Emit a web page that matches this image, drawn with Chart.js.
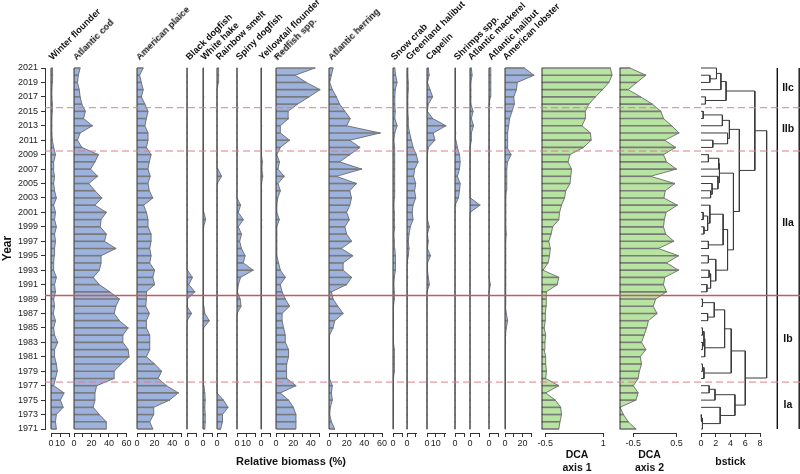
<!DOCTYPE html>
<html lang="en">
<head>
<meta charset="UTF-8" />
<title>Relative biomass stratigraphy</title>
<script src="https://cdn.jsdelivr.net/npm/chart.js"></script>
<style>
  html, body { margin: 0; padding: 0; background: #fff; overflow: hidden; }
  #stage { position: relative; width: 800px; height: 474px; font-family: "Liberation Sans", Arial, Helvetica, sans-serif; }
  #stage canvas { position: absolute; top: 0; }
  .head {
    position: absolute; white-space: nowrap; font-weight: bold; font-size: 9.3px;
    line-height: 10px; height: 10px; color: #111;
    transform-origin: 0 100%; transform: rotate(-45deg);
  }
  .xtitle { position: absolute; font-weight: bold; font-size: 11px; color: #111; white-space: nowrap; transform: translateX(-50%); }
</style>
</head>
<body>
<div id="stage"></div>
<script>
// years, bottom to top
const years = Array.from({ length: 51 }, (_, i) => 1971 + i);

// relative biomass (%), 1971 -> 2021
const winterFlounder = [6, 5, 6, 13.5, 10.5, 14.5, 3, 5, 7, 6,
  4, 4, 7.5, 4, 3, 5, 2.5, 4, 3, 5,
  4, 6, 3, 3, 3.5, 4, 5, 4, 6, 4,
  5, 3, 6, 4, 3, 4, 2.5, 3, 5, 3,
  1.5, 1, 1, 1, 1.5, 1.5, 1, 1, 1.5, 2,
  1.5];
const atlanticCod = [37, 37, 29, 22, 24, 24, 26, 46, 46, 54,
  63, 62, 56, 56, 62, 52, 46, 48, 52, 41,
  29, 22, 29, 31, 31, 48, 35, 37, 30, 31,
  37, 24, 32, 24, 17, 27, 19, 24, 28, 9,
  4, 7, 21, 11, 13, 9, 7, 6, 4, 5,
  7];
const americanPlaice = [18, 14.5, 19, 19, 37, 47, 33.5, 24, 28, 20,
  10.7, 14.5, 14.5, 14.5, 10.7, 10.7, 14, 10, 10.7, 10.7,
  20, 18, 20, 14.5, 16, 14.5, 16, 16, 12.5, 12.5,
  10.7, 7.6, 18, 14, 12.5, 15, 12.5, 14, 16, 10.7,
  12.5, 12.5, 9, 10.7, 12.5, 9, 5, 7, 5, 3,
  7];
const blackDogfish = [0, 0, 0, 0, 0, 0, 0, 0, 0, 0,
  0, 0, 0, 0, 0, 0.5, 5, 0, 0.5, 8.8,
  2, 6, 0.5, 0, 0, 0, 0, 0, 0.5, 1,
  0.5, 0, 0, 0, 0, 0, 0, 0, 0, 0,
  0, 0, 0, 0, 0, 0, 0, 0, 0, 0,
  0];
const whiteHake = [2, 2.5, 2.5, 2, 2.5, 2, 1, 0.5, 0.5, 0.5,
  0.5, 0.5, 0.5, 0.5, 1, 7, 2, 1, 0.5, 0.5,
  0.5, 0.5, 0.5, 0.5, 0.5, 0.5, 0.5, 0.5, 1, 3,
  1, 0.5, 0.5, 0.5, 0.5, 0.5, 0.5, 0.5, 0.5, 0.5,
  0.5, 0.5, 0.5, 0.5, 0.5, 0.5, 1, 0.5, 0.5, 0.5,
  0.5];
const rainbowSmelt = [4, 6, 6, 12, 7, 0, 0, 0, 0, 0,
  0, 0, 0, 0, 0, 1, 0.5, 0, 0, 0,
  0, 0, 0, 0, 0, 0, 0, 0, 0, 0,
  0, 0, 0, 0, 1, 5, 1, 0, 0, 0,
  0, 0, 0, 0, 0, 0, 0, 0, 1.5, 2,
  1.5];
const spinyDogfish = [0, 0, 0, 0, 0, 0, 0, 0, 0, 0,
  0, 0, 0, 0, 0, 0, 0.5, 4.5, 3.5, 0.5,
  1.5, 4, 18, 7, 9, 5, 3, 5, 1.5, 7,
  1.5, 4, 0, 0, 0, 0, 0, 0, 0, 0,
  0, 0, 0, 0, 0, 0, 0, 0, 0, 0,
  0];
const yellowtailFlounder = [0.5, 0.5, 0.5, 0.5, 0.5, 0.5, 1, 0.5, 0.5, 0.5,
  0.5, 0.5, 0.5, 0.5, 0.5, 0.5, 0.5, 0.5, 0.5, 0.5,
  0.5, 0.5, 0.5, 0.5, 0.5, 0.5, 0.5, 0.5, 1, 1,
  0.5, 0.5, 0.5, 1, 1, 2, 1, 1.5, 0.5, 0.5,
  0.5, 0.5, 1, 0.5, 0.5, 0.5, 0.5, 0.5, 0.5, 0.5,
  0.5];
const redfish = [22, 23, 23, 20, 14.5, 5, 23, 12.6, 11.8, 12.6,
  14.5, 14.5, 10.7, 10.7, 8.8, 7, 7, 15.6, 10.7, 7,
  5, 10.7, 5, 3, 1, 1, 1, 1, 1, 3.8,
  1, 1, 2, 5, 2.3, 9.5, 2.3, 4, 1, 5,
  15.6, 5, 5, 14.5, 14, 25, 38, 50.7, 35, 22,
  45];
const atlanticHerring = [6.5, 2.7, 0.8, 1.5, 3.8, 2.7, 3.8, 0.5, 0.5, 0.5,
  0.5, 0.5, 0.5, 0.8, 4.6, 6.5, 16, 10, 4.6, 2.7,
  20, 25.5, 16, 16, 27, 14, 25.5, 20, 18, 23,
  20, 23.6, 25.5, 23.6, 31, 8.4, 37, 12, 23.6, 35,
  23.6, 58, 20, 24, 18, 12, 8.4, 3.8, 0.8, 2.7,
  4.6];
const snowCrab = [0.5, 0.5, 0.5, 0.5, 0.5, 0.5, 0.5, 0.5, 1.5, 1.5,
  1.5, 1.5, 0.5, 0.5, 0.5, 0.5, 0.5, 0.5, 1.5, 1.5,
  1, 1.5, 2.7, 2.7, 2.7, 2, 1.5, 1, 2, 1.5,
  1.5, 1, 1.5, 2, 2, 1.5, 2, 2, 2, 1.5,
  1, 2, 4.5, 2, 2.5, 2, 2, 2.5, 4.5, 3,
  2];
const greenlandHalibut = [0, 0, 0, 0, 0, 0, 0, 0, 0, 0,
  0, 0, 0, 0, 0, 0, 0, 0, 0.3, 0.5,
  0.5, 1, 0.5, 1, 1.5, 2.3, 1.5, 2.3, 3.8, 6.9,
  6, 6.9, 10, 8.8, 10, 7.6, 8.8, 12.6, 10.7, 7,
  5, 3, 1.5, 1.5, 1, 1, 1, 1.5, 1.5, 1,
  1];
const capelin = [0, 0, 0, 0, 0, 0, 0, 0, 0, 0,
  0, 0, 0, 0, 0, 0, 0, 0, 0, 0.5,
  2.7, 1.5, 0.5, 0.5, 4, 0.5, 1.5, 0.5, 2.7, 0.5,
  0.5, 0.5, 0.5, 0.5, 0.5, 0.5, 0.5, 0.5, 0.5, 1.5,
  9, 7.2, 21.7, 6.5, 0.5, 1.5, 6.5, 3.5, 0.5, 2.5,
  1.5];
const shrimps = [0, 0, 0, 0, 0, 0, 0, 0, 0, 0,
  0, 0, 0, 0, 0, 0, 0, 0, 0, 0,
  0, 0, 0, 0, 0, 0, 0, 0, 0, 0,
  0.5, 1, 3.8, 5, 5.7, 2.7, 5, 5.7, 5, 2.7,
  1, 1, 0.5, 0.5, 0.5, 0.5, 0.5, 0.5, 0.5, 0.5,
  0.5];
const atlanticMackerel = [0, 0, 0, 0, 0, 0, 0, 0, 0, 0,
  0, 0, 0, 0, 0, 0, 0, 0, 0, 0,
  0, 0, 0, 0, 0, 0, 0, 0, 0, 0,
  0.5, 11, 0.5, 0, 0, 0, 0, 0, 0, 0.5,
  1.5, 1.5, 4, 1.5, 3.4, 1, 1, 1, 1, 2.3,
  1.5];
const atlanticHalibut = [0, 0, 0, 0, 0, 0, 0, 0, 0, 0,
  0, 0, 0, 0, 0, 0, 0, 0, 0, 0,
  1.5, 0, 0, 0, 0, 0, 0, 0, 0, 0,
  0, 0, 0, 0, 0, 0, 0, 0, 0, 0,
  0, 0.5, 0.5, 0.5, 0.5, 1, 1.5, 2, 2, 2,
  2];
const americanLobster = [0.5, 0.5, 0.5, 0.5, 0.5, 0.5, 0.5, 0.5, 0.5, 0.5,
  0.5, 0.5, 1, 1, 1.5, 3, 1.5, 0.5, 0.5, 0.5,
  1, 1, 1, 1, 1, 1, 1, 1.5, 1, 1,
  1, 1, 1, 1.5, 2, 2, 2, 3, 6.9, 2.3,
  3, 3, 4.2, 5.3, 8, 10.7, 10, 13, 14, 33,
  22];

// DCA site scores, 1971 -> 2021
const dcaAxis1 = [-0.15, -0.12, -0.08, -0.1, -0.24, -0.49, -0.15, -0.49, -0.47, -0.49,
  -0.49, -0.53, -0.51, -0.49, -0.53, -0.5, -0.5, -0.48, -0.48, -0.47,
  -0.19, -0.15, -0.56, -0.43, -0.39, -0.37, -0.41, -0.35, -0.31, -0.15,
  -0.13, -0.08, 0.0, 0.03, 0.14, 0.16, 0.18, 0.09, 0.14, 0.49,
  0.69, 0.67, 0.45, 0.54, 0.54, 0.63, 0.8, 0.98, 1.15, 1.23,
  1.19];
const dcaAxis2 = [-0.44, -0.62, -0.73, -0.81, -0.44, -0.39, -0.5, -0.39, -0.36, -0.31,
  -0.34, -0.21, -0.31, -0.25, -0.19, -0.15, 0.05, -0.04, 0.02, 0.27,
  0.2, 0.23, 0.55, 0.27, 0.55, 0.08, 0.44, 0.25, 0.2, 0.22,
  0.26, 0.52, 0.21, 0.24, 0.46, -0.1, 0.5, 0.27, 0.2, 0.48,
  0.23, 0.56, 0.39, 0.2, 0.14, -0.06, -0.33, -0.62, -0.42, -0.21,
  -0.58];

// CONISS merges: [left, right, height]; values < 100 point at an earlier merge
const dendroMerges = [
  [2020, 2019, 1.2], [2021, 0, 2.1], [1, 2018, 2.7], [2017, 2016, 0.6], [2, 3, 3.4],
  [2015, 2014, 0.3], [5, 2013, 2.9], [2011, 2010, 1.6], [2012, 7, 3.6], [6, 8, 3.85],
  [2009, 2008, 1.0], [10, 2007, 2.4], [2004, 2003, 1.3], [2005, 12, 1.5], [2006, 13, 2.3],
  [11, 14, 2.5], [2001, 2000, 0.3], [1999, 1998, 0.4], [16, 17, 0.9], [2002, 18, 1.2],
  [1997, 1996, 1.0], [19, 20, 3.0], [1995, 1994, 1.0], [1993, 1992, 1.1], [1991, 1990, 0.8],
  [23, 24, 1.3], [22, 25, 2.0], [21, 26, 3.6], [15, 27, 4.4], [9, 28, 5.2],
  [4, 29, 7.3], [1989, 1988, 0.2], [1987, 1986, 0.9], [31, 32, 1.8], [1985, 1984, 0.2],
  [1983, 1982, 0.2], [34, 35, 0.4], [36, 1981, 0.5], [33, 37, 3.2], [1980, 1979, 0.2],
  [39, 1978, 0.4], [38, 40, 4.1], [1977, 1976, 1.1], [42, 1975, 1.9], [1973, 1972, 0.1],
  [44, 1971, 0.2], [1974, 45, 2.6], [43, 46, 4.6], [41, 47, 6.0], [30, 48, 8.9]
];

// zones
const zoneEdges = [1971, 1977.5, 1989.5, 2009.5, 2015.5, 2021];
const zoneNames = ['Ia', 'Ib', 'IIa', 'IIb', 'IIc'];
const majorBreak = 1989.5;

// ---- layout ----
const FONT = '"Liberation Sans", Arial, Helvetica, sans-serif';
const H = 474, Y_TOP = 68, Y_1971 = 429, AXIS_Y = 433;
const PX_YEAR = (Y_1971 - Y_TOP) / (years[years.length - 1] - years[0]);
const Y_MIN = years[0] - (AXIS_Y - Y_1971) / PX_YEAR;
const PAD = 16;
const PX_PCT = 0.875;
const BLUE = '#9db3de', GREEN = '#b8e4a2';

Chart.defaults.font.family = FONT;
Chart.defaults.color = '#222';
Chart.defaults.animation = false;

const stage = document.getElementById('stage');

function addCanvas(left, width) {
  const c = document.createElement('canvas');
  c.width = Math.round(width);
  c.height = H;
  c.style.left = left + 'px';
  stage.appendChild(c);
  return c;
}

// axis line only between first and last tick, like the original brackets
const bracket = {
  id: 'bracket',
  afterDraw(chart) {
    const sx = chart.scales.x;
    const t = sx.ticks;
    if (!t.length) return;
    const ctx = chart.ctx;
    const y0 = Math.round(chart.chartArea.bottom) + 0.5;
    ctx.save();
    ctx.strokeStyle = '#333';
    ctx.lineWidth = 1;
    ctx.beginPath();
    ctx.moveTo(Math.round(sx.getPixelForValue(t[0].value)), y0);
    ctx.lineTo(Math.round(sx.getPixelForValue(t[t.length - 1].value)) + 1, y0);
    ctx.stroke();
    ctx.restore();
  }
};

function yHidden() {
  return { type: 'linear', min: Y_MIN, max: years[years.length - 1], display: false, offset: false };
}

function xAxis(p, lo, hi) {
  return {
    type: 'linear', position: 'bottom', min: lo, max: hi, offset: false,
    afterBuildTicks: s => { s.ticks = p.ticks.map(v => ({ value: v })); },
    afterFit: s => { s.height = H - AXIS_Y; },
    grid: { drawOnChartArea: false, tickLength: 4, color: '#333', lineWidth: 1 },
    border: { display: false },
    ticks: {
      autoSkip: false, maxRotation: 0, padding: 1, color: '#222', font: { size: 9 },
      callback: v => p.labels.includes(v) ? String(v) : ''
    },
    title: p.title ? {
      display: true, text: p.title, color: '#111',
      font: { size: 10.5, weight: 'bold', lineHeight: 1.2 },
      padding: { top: 0, bottom: p.titlePad || 0 }
    } : { display: false }
  };
}

function baseOptions(p, lo, hi) {
  return {
    responsive: false, devicePixelRatio: 1, events: [],
    layout: { padding: { top: Y_TOP, bottom: 0, left: PAD, right: PAD } },
    plugins: { legend: { display: false }, tooltip: { enabled: false } },
    scales: { x: xAxis(p, lo, hi), y: yHidden() }
  };
}

function makeStrip(p) {
  const lo = Math.min(p.min, p.base, ...p.values);
  const hi = Math.max(p.max, ...p.values);
  const areaLeft = p.left - (p.min - lo) * p.ppu;
  const cv = addCanvas(areaLeft - PAD, (hi - lo) * p.ppu + 2 * PAD);
  const pts = years.map((yr, i) => ({ x: p.values[i], y: yr }));
  const baseLine = [{ x: p.base, y: years[0] }, { x: p.base, y: years[years.length - 1] }];
  const opts = baseOptions(p, lo, hi);
  opts.indexAxis = 'y';
  const chart = new Chart(cv, {
    type: 'line',
    data: {
      datasets: [
        { data: pts, fill: { value: p.base }, backgroundColor: p.color, borderColor: '#5c5c5c',
          borderWidth: 0.8, pointRadius: 0, tension: 0, clip: false, order: 2 },
        { type: 'bar', data: pts, base: p.base, backgroundColor: '#7a7a7a', borderWidth: 0,
          barThickness: 1, clip: false, order: 1 },
        { data: baseLine, borderColor: '#333', borderWidth: 1, pointRadius: 0, fill: false,
          clip: false, order: 0 }
      ]
    },
    options: opts,
    plugins: [bracket]
  });
  return { chart, canvasLeft: areaLeft - PAD };
}

// year axis
new Chart(addCanvas(0, 60), {
  type: 'line',
  data: { datasets: [] },
  options: {
    responsive: false, devicePixelRatio: 1, events: [],
    layout: { padding: { top: Y_TOP, bottom: H - Y_1971, left: 0, right: 10 } },
    plugins: { legend: { display: false }, tooltip: { enabled: false } },
    scales: {
      x: { display: false },
      y: {
        type: 'linear', position: 'left', min: years[0], max: years[years.length - 1],
        afterBuildTicks: s => { s.ticks = years.filter(v => v % 2 === 1).map(v => ({ value: v })); },
        afterFit: s => { s.width = 45; },
        grid: { drawOnChartArea: false, tickLength: 4, color: '#333' },
        border: { color: '#333', width: 1 },
        ticks: { autoSkip: false, padding: 3, font: { size: 9 }, color: '#222', callback: v => String(v) },
        title: { display: true, text: 'Year', color: '#111', font: { size: 12, weight: 'bold' }, padding: 0 }
      }
    }
  }
});

// species panels: left = pixel of the zero line
const speciesPanels = [
  { name: 'Winter flounder', values: winterFlounder, left: 50.7, max: 20, ticks: [0, 10, 20], labels: [0, 10] },
  { name: 'Atlantic cod', values: atlanticCod, left: 74.3, max: 60, ticks: [0, 10, 20, 30, 40, 50, 60], labels: [0, 20, 40, 60] },
  { name: 'American plaice', values: americanPlaice, left: 137.3, max: 50, ticks: [0, 10, 20, 30, 40, 50], labels: [0, 20, 40] },
  { name: 'Black dogfish', values: blackDogfish, left: 187.3, max: 10, ticks: [0, 10], labels: [0] },
  { name: 'White hake', values: whiteHake, left: 202.7, max: 10, ticks: [0, 10], labels: [0] },
  { name: 'Rainbow smelt', values: rainbowSmelt, left: 217.3, max: 10, ticks: [0, 10], labels: [0] },
  { name: 'Spiny dogfish', values: spinyDogfish, left: 237, max: 20, ticks: [0, 10, 20], labels: [0, 10] },
  { name: 'Yellowtail flounder', values: yellowtailFlounder, left: 260.7, max: 10, ticks: [0, 10], labels: [0] },
  { name: 'Redfish spp.', values: redfish, left: 275.7, max: 50, ticks: [0, 10, 20, 30, 40, 50], labels: [0, 20, 40] },
  { name: 'Atlantic herring', values: atlanticHerring, left: 329.3, max: 60, ticks: [0, 10, 20, 30, 40, 50, 60], labels: [0, 20, 40, 60] },
  { name: 'Snow crab', values: snowCrab, left: 392.7, max: 10, ticks: [0, 10], labels: [0] },
  { name: 'Greenland halibut', values: greenlandHalibut, left: 407.3, max: 10, ticks: [0, 10], labels: [0] },
  { name: 'Capelin', values: capelin, left: 427, max: 20, ticks: [0, 10, 20], labels: [0, 10] },
  { name: 'Shrimps spp.', values: shrimps, left: 455, max: 10, ticks: [0, 10], labels: [0] },
  { name: 'Atlantic mackerel', values: atlanticMackerel, left: 469.7, max: 10, ticks: [0, 10], labels: [0] },
  { name: 'Atlantic halibut', values: atlanticHalibut, left: 489.3, max: 10, ticks: [0, 10], labels: [0] },
  { name: 'American lobster', values: americanLobster, left: 504.7, max: 30, ticks: [0, 10, 20, 30], labels: [0, 20] }
];

speciesPanels.forEach(p => {
  const { chart, canvasLeft } = makeStrip(Object.assign({ min: 0, base: 0, ppu: PX_PCT, color: BLUE }, p));
  const zeroX = canvasLeft + chart.scales.x.getPixelForValue(0);
  const head = document.createElement('div');
  head.className = 'head';
  head.textContent = p.name;
  head.style.left = (zeroX + 3.5) + 'px';
  head.style.top = (Y_TOP - 16) + 'px';
  stage.appendChild(head);
});

// DCA panels
makeStrip({ values: dcaAxis1, left: 545, min: -0.5, max: 1, ppu: 38.47, base: -0.586, color: GREEN,
  ticks: [-0.5, 1], labels: [-0.5, 1], title: ['DCA', 'axis 1'] });
makeStrip({ values: dcaAxis2, left: 633.3, min: -0.5, max: 0.5, ppu: 43.4, base: -0.81, color: GREEN,
  ticks: [-0.5, 0.5], labels: [-0.5, 0.5], title: ['DCA', 'axis 2'] });

// dendrogram
(function () {
  const nodes = [];
  const pos = ref => ref < 100 ? nodes[ref] : { h: 0, y: ref };
  const datasets = dendroMerges.map(([a, b, h]) => {
    const A = pos(a), B = pos(b);
    nodes.push({ h, y: (A.y + B.y) / 2 });
    return {
      data: [{ x: A.h, y: A.y }, { x: h, y: A.y }, { x: h, y: B.y }, { x: B.h, y: B.y }],
      showLine: true, borderColor: '#3a3a3a', borderWidth: 1, pointRadius: 0, fill: false, clip: false
    };
  });
  const p = { min: 0, max: 8, ticks: [0, 2, 4, 6, 8], labels: [0, 2, 4, 6, 8], title: 'bstick', titlePad: 6 };
  const ppu = 7.375;
  new Chart(addCanvas(701 - PAD, (p.max - p.min) * ppu + 2 * PAD), {
    type: 'scatter',
    data: { datasets },
    options: baseOptions(p, p.min, p.max),
    plugins: [bracket]
  });
})();

// zone overlay
const zoneLabels = {
  id: 'zoneLabels',
  afterDatasetsDraw(chart) {
    const { ctx, scales: { y } } = chart;
    ctx.save();
    ctx.font = 'bold 10.5px ' + FONT;
    ctx.fillStyle = '#111';
    ctx.textAlign = 'center';
    ctx.textBaseline = 'middle';
    zoneNames.forEach((name, i) => {
      ctx.fillText(name, 788, y.getPixelForValue((zoneEdges[i] + zoneEdges[i + 1]) / 2));
    });
    ctx.restore();
  }
};
const overlaySets = zoneEdges.slice(1, -1).map(b => ({
  data: [{ x: 45, y: b }, { x: 800, y: b }],
  showLine: true, pointRadius: 0, fill: false,
  borderColor: b === majorBreak ? '#c25a62' : '#dc7f8a',
  borderWidth: b === majorBreak ? 1.6 : 1,
  borderDash: b === majorBreak ? [] : [7, 4]
}));
[777.3, 799.2].forEach(x => overlaySets.push({
  data: [{ x, y: years[0] }, { x, y: years[years.length - 1] }],
  showLine: true, pointRadius: 0, fill: false, borderColor: '#111', borderWidth: 1.4
}));
const ov = addCanvas(0, 800);
ov.style.pointerEvents = 'none';
new Chart(ov, {
  type: 'scatter',
  data: { datasets: overlaySets },
  options: {
    responsive: false, devicePixelRatio: 1, events: [],
    layout: { padding: { top: Y_TOP, bottom: H - AXIS_Y, left: 0, right: 0 } },
    plugins: { legend: { display: false }, tooltip: { enabled: false } },
    scales: {
      x: { type: 'linear', min: 0, max: 800, display: false },
      y: yHidden()
    }
  },
  plugins: [zoneLabels]
});

// shared x title
const xt = document.createElement('div');
xt.className = 'xtitle';
xt.textContent = 'Relative biomass (%)';
xt.style.left = '291px';
xt.style.top = '455px';
stage.appendChild(xt);
</script>
</body>
</html>
